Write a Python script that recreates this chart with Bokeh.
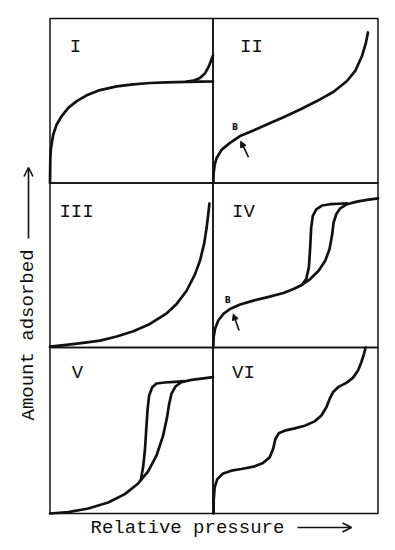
from bokeh.plotting import figure
from bokeh.models import Range1d, Label, Arrow, OpenHead, NormalHead
from bokeh.embed import file_html
from bokeh.resources import INLINE

# ---------------- data (relative pressure, amount adsorbed; each panel normalised 0..1) -------------
type1_x = [0, 0.002, 0.006, 0.02, 0.041, 0.072, 0.112, 0.164, 0.225, 0.307, 0.409, 0.511, 0.613, 0.716, 0.838, 0.92, 1.0]
type1_y = [0, 0.152, 0.213, 0.295, 0.356, 0.407, 0.457, 0.498, 0.533, 0.565, 0.587, 0.6, 0.608, 0.612, 0.615, 0.616, 0.617]
type1b_x = [0.84, 0.88, 0.92, 0.95, 0.975, 1.0]
type1b_y = [0.617, 0.622, 0.638, 0.665, 0.71, 0.775]

type2_x = [0.002, 0.004, 0.01, 0.022, 0.053, 0.103, 0.164, 0.245, 0.326, 0.427, 0.528, 0.63, 0.731, 0.812, 0.862, 0.903, 0.927, 0.939]
type2_y = [0, 0.06, 0.11, 0.152, 0.203, 0.244, 0.285, 0.319, 0.356, 0.4, 0.447, 0.498, 0.555, 0.62, 0.681, 0.772, 0.854, 0.915]

type3_x = [0, 0.102, 0.204, 0.307, 0.409, 0.511, 0.613, 0.716, 0.777, 0.838, 0.89, 0.92, 0.945, 0.961, 0.971, 0.978]
type3_y = [0.005, 0.016, 0.028, 0.042, 0.067, 0.099, 0.143, 0.208, 0.265, 0.345, 0.446, 0.527, 0.628, 0.729, 0.81, 0.875]

type4_ads_x = [0.002, 0.004, 0.012, 0.032, 0.063, 0.103, 0.164, 0.245, 0.326, 0.427, 0.488, 0.538, 0.589, 0.64, 0.68, 0.706, 0.721, 0.731, 0.747, 0.771, 0.812, 0.872, 0.933, 1.0]
type4_ads_y = [0, 0.063, 0.113, 0.164, 0.204, 0.234, 0.261, 0.285, 0.305, 0.331, 0.356, 0.38, 0.416, 0.467, 0.527, 0.598, 0.679, 0.76, 0.81, 0.846, 0.871, 0.887, 0.897, 0.907]
type4_des_x = [0.538, 0.565, 0.581, 0.589, 0.595, 0.605, 0.626, 0.66, 0.711, 0.76, 0.812]
type4_des_y = [0.38, 0.416, 0.487, 0.608, 0.729, 0.8, 0.84, 0.863, 0.871, 0.874, 0.876]

type5_ads_x = [0, 0.112, 0.235, 0.357, 0.459, 0.541, 0.602, 0.653, 0.694, 0.718, 0.731, 0.745, 0.769, 0.806, 0.867, 0.929, 1.0]
type5_ads_y = [0, 0.008, 0.03, 0.066, 0.117, 0.181, 0.254, 0.348, 0.469, 0.579, 0.66, 0.72, 0.765, 0.791, 0.805, 0.813, 0.821]
type5_des_x = [0.557, 0.571, 0.582, 0.59, 0.598, 0.608, 0.627, 0.653, 0.704, 0.765, 0.827]
type5_des_y = [0.201, 0.278, 0.378, 0.499, 0.62, 0.71, 0.761, 0.783, 0.789, 0.793, 0.797]

type6_x = [0.004, 0.004, 0.01, 0.026, 0.061, 0.111, 0.172, 0.253, 0.303, 0.343, 0.364, 0.378, 0.398, 0.434, 0.495, 0.556, 0.616, 0.657, 0.687, 0.707, 0.727, 0.758, 0.808, 0.848, 0.879, 0.899, 0.915, 0.925]
type6_y = [0, 0.076, 0.157, 0.207, 0.241, 0.258, 0.268, 0.284, 0.304, 0.338, 0.388, 0.449, 0.483, 0.499, 0.513, 0.529, 0.555, 0.59, 0.64, 0.69, 0.73, 0.761, 0.787, 0.817, 0.861, 0.911, 0.962, 1.0]

panel_names = ["I", "II", "III", "IV", "V", "VI"]
panel_cols = [0, 1, 0, 1, 0, 1]
panel_rows = [2, 2, 1, 1, 0, 0]
panel_curves = [
    [(type1_x, type1_y), (type1b_x, type1b_y)],
    [(type2_x, type2_y)],
    [(type3_x, type3_y)],
    [(type4_ads_x, type4_ads_y), (type4_des_x, type4_des_y)],
    [(type5_ads_x, type5_ads_y), (type5_des_x, type5_des_y)],
    [(type6_x, type6_y)],
]
# point B (label position, arrow tail, arrow tip) in panel coordinates
b_panels = [1, 3]
b_label = [(0.134, 0.335), (0.089, 0.285)]
b_tail = [(0.215, 0.157), (0.158, 0.103)]
b_tip = [(0.168, 0.254), (0.123, 0.204)]

x_label = "Relative pressure"
y_label = "Amount adsorbed"

# ---------------- layout (page pixels) ----------------
W, H = 390, 545
M = 0   # canvas origin on the page
col_edges = [49.5, 212.5, 377.5]
row_edges = [513.0, 347.0, 182.5, 18.0]   # bottom of row 0 ... top of row 2

INK = "#111111"
FONT = "Liberation Mono"

p = figure(width=W, height=H, output_backend="svg", toolbar_location=None,
           x_axis_location=None, y_axis_location=None, min_border=0,
           x_range=Range1d(M, M + W), y_range=Range1d(M + H, M),
           background_fill_color="white", border_fill_color="white", outline_line_color=None)
p.grid.visible = False

for c in range(2):
    L, R = col_edges[c], col_edges[c + 1]
    p.extra_x_ranges[f"c{c}"] = Range1d((M - L) / (R - L), (M + W - L) / (R - L))
for r in range(3):
    B, T = row_edges[r], row_edges[r + 1]
    p.extra_y_ranges[f"r{r}"] = Range1d((B - M - H) / (B - T), (B - M) / (B - T))

label_pos = [(75, 46), (251, 46), (76, 211), (243, 211), (77, 372), (243, 372)]

for i, name in enumerate(panel_names):
    xr, yr = f"c{panel_cols[i]}", f"r{panel_rows[i]}"
    p.quad(left=0, right=1, bottom=0, top=1, fill_color=None, line_color=INK,
           line_width=1.5, x_range_name=xr, y_range_name=yr)
    for xs, ys in panel_curves[i]:
        p.line(xs, ys, line_color=INK, line_width=2.7, line_join="round", line_cap="round",
               x_range_name=xr, y_range_name=yr)
    lx, ly = label_pos[i]
    p.add_layout(Label(x=lx, y=ly, text=name, text_font=FONT, text_font_size="19px",
                       text_align="center", text_baseline="middle", text_color=INK))

for k, pi in enumerate(b_panels):
    xr, yr = f"c{panel_cols[pi]}", f"r{panel_rows[pi]}"
    p.add_layout(Label(x=b_label[k][0], y=b_label[k][1], text="B", text_font="DejaVu Sans",
                       text_font_size="8px", text_font_style="bold", text_align="center",
                       text_baseline="middle", text_color=INK, x_range_name=xr, y_range_name=yr))
    p.add_layout(Arrow(x_start=b_tail[k][0], y_start=b_tail[k][1], x_end=b_tip[k][0], y_end=b_tip[k][1],
                       line_width=1.6, line_color=INK,
                       end=NormalHead(size=6, fill_color=INK, line_color=INK, line_width=1),
                       x_range_name=xr, y_range_name=yr))

# axis titles with long arrows
p.add_layout(Label(x=90, y=527, text=x_label, text_font=FONT, text_font_size="19px",
                   text_align="left", text_baseline="middle", text_color=INK))
p.add_layout(Arrow(x_start=297, y_start=527, x_end=351, y_end=527, line_width=1.6, line_color=INK,
                   end=OpenHead(size=9, line_width=1.6, line_color=INK)))
p.add_layout(Label(x=28, y=420, text=y_label, text_font=FONT, text_font_size="19px", angle=1.5708,
                   text_align="left", text_baseline="middle", text_color=INK))
p.add_layout(Arrow(x_start=28, y_start=238, x_end=28, y_end=167, line_width=1.6, line_color=INK,
                   end=OpenHead(size=9, line_width=1.6, line_color=INK)))

open("out.html", "w").write(file_html(p, INLINE))
